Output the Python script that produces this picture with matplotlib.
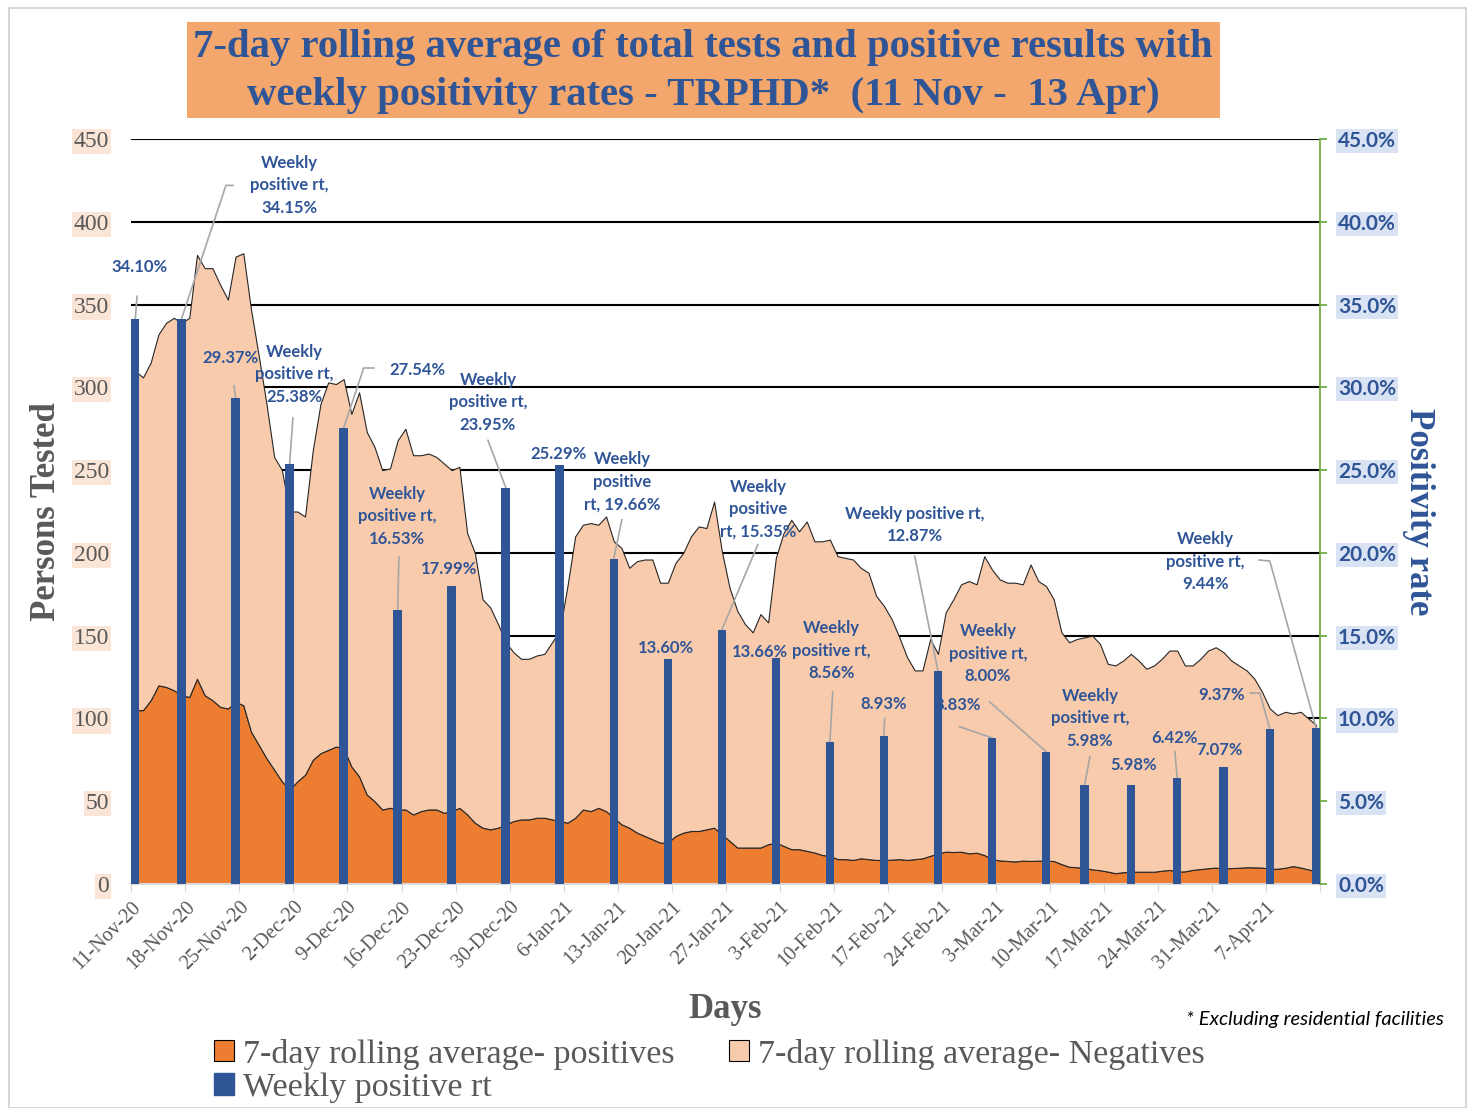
import numpy as np
import matplotlib.pyplot as plt
from matplotlib.patches import Patch, Rectangle

# daily 7-day rolling averages, 11-Nov-20 .. 13-Apr-21
total_tested = [
    310, 306, 315, 332, 339, 342, 339, 342, 380, 372, 372, 362, 353, 379, 381, 347,
    319, 290, 258, 250, 225, 225, 222, 262, 290, 303, 302, 305, 284, 297, 273, 264,
    250, 251, 268, 275, 259, 259, 260, 258, 254, 250, 252, 212, 200, 172, 167, 157,
    146, 140, 136, 136, 138, 139, 146, 153, 180, 210, 217, 218, 217, 222, 207, 203,
    191, 195, 196, 196, 182, 182, 194, 200, 210, 216, 215, 231, 201, 179, 165, 157,
    152, 163, 158, 197, 212, 220, 213, 219, 207, 207, 208, 198, 197, 196, 191, 188,
    174, 168, 160, 149, 137, 129, 129, 148, 139, 164, 172, 181, 183, 181, 198, 190,
    184, 182, 182, 181, 193, 183, 180, 172, 152, 146, 148, 149, 150, 145, 133, 132,
    135, 139, 135, 130, 132, 136, 141, 141, 132, 132, 136, 141, 143, 140, 135, 132,
    129, 124, 116, 106, 102, 104, 103, 104, 100, 96,
]
positives = [
    105, 105, 111, 120, 119, 117, 114, 113, 124, 114, 111, 107, 106, 110, 108, 92,
    84, 76, 69, 62, 57, 62, 66, 75, 79, 81, 83, 82, 71, 65, 54, 50,
    45, 46, 45, 45, 42, 44, 45, 45, 43, 44, 46, 42, 37, 34, 33, 34,
    36, 38, 39, 39, 40, 40, 39, 38, 37, 40, 45, 44, 46, 44, 40, 36,
    34, 31, 29, 27, 25, 25, 29, 31, 32, 32, 33, 34, 30, 26, 22, 22,
    22, 22, 24, 25, 23, 21, 21, 20, 19, 17.5, 17, 15, 15, 14.5, 15.5, 15,
    14.5, 14.5, 14.7, 15, 14.5, 15, 15.5, 17, 18.5, 19.5, 19.3, 19.5, 18.5, 18.9, 17.5, 15,
    14.2, 13.9, 13.6, 14.1, 13.9, 14.1, 14, 13.9, 12, 10.4, 10.1, 9.7, 8.8, 8.3, 7.5, 6.5,
    7.1, 7.4, 7.4, 7.4, 7.4, 8, 8.5, 7.5, 7.6, 8.5, 9, 9.5, 9.9, 9.3, 9.6, 9.8,
    10.1, 10, 9.9, 9.2, 9.2, 9.8, 10.8, 9.9, 8.8, 7.5,
]

# weekly positivity rate (%), day index since 11-Nov-20
rate_days = [0, 6, 13, 20, 27, 34, 41, 48, 55, 62, 69, 76, 83, 90, 97, 104,
             111, 118, 123, 129, 135, 141, 147, 153]
rate_vals = [34.10, 34.15, 29.37, 25.38, 27.54, 16.53, 17.99, 23.95, 25.29, 19.66,
             13.60, 15.35, 13.66, 8.56, 8.93, 12.87, 8.83, 8.00, 5.98, 5.98,
             6.42, 7.07, 9.37, 9.44]
rate_texts = ["{}%", "Weekly\npositive rt,\n{}%", "{}%", "Weekly\npositive rt,\n{}%",
              "{}%", "Weekly\npositive rt,\n{}%", "{}%", "Weekly\npositive rt,\n{}%",
              "{}%", "Weekly\npositive\nrt, {}%", "{}%", "Weekly\npositive\nrt, {}%",
              "{}%", "Weekly\npositive rt,\n{}%", "{}%", "Weekly positive rt,\n{}%",
              "{}%", "Weekly\npositive rt,\n{}%", "Weekly\npositive rt,\n{}%", "{}%",
              "{}%", "{}%", "{}%", "Weekly\npositive rt,\n{}%"]

tick_labels = ["11-Nov-20", "18-Nov-20", "25-Nov-20", "2-Dec-20", "9-Dec-20", "16-Dec-20",
               "23-Dec-20", "30-Dec-20", "6-Jan-21", "13-Jan-21", "20-Jan-21", "27-Jan-21",
               "3-Feb-21", "10-Feb-21", "17-Feb-21", "24-Feb-21", "3-Mar-21", "10-Mar-21",
               "17-Mar-21", "24-Mar-21", "31-Mar-21", "7-Apr-21"]

# label placement: text centre, leader start (+ elbow) in ax2 data coords
label_pos = [(1.0, 37.3), (20.5, 42.2), (12.9, 31.8), (21.1, 30.8), (37.0, 31.05),
             (34.4, 22.2), (41.1, 19.0), (46.2, 29.1), (55.3, 26.0), (63.6, 24.3),
             (69.3, 14.25), (81.2, 22.65), (81.4, 14.0), (90.7, 14.1), (97.5, 10.9),
             (101.5, 21.7), (107.1, 10.8), (111.0, 13.9), (124.2, 10.0), (129.9, 7.2),
             (135.1, 8.8), (141.0, 8.1), (141.3, 11.4), (139.2, 19.45)]
leaders = {0: [(0.73, 35.5)], 1: [(13.16, 42.2), (12.25, 42.2)], 2: [(13.3, 30.1)],
           3: [(20.93, 28.15)], 4: [(31.4, 31.17), (30.1, 31.17)], 5: [(34.66, 19.75)],
           7: [(46.2, 26.8)], 9: [(63.55, 22.0)], 11: [(81.17, 20.5)], 13: [(90.87, 11.6)],
           14: [(97.6, 10.0)], 15: [(101.5, 19.8)], 16: [(107.3, 9.5)], 17: [(111.2, 11.0)],
           18: [(124.2, 7.7)], 20: [(135.2, 8.0)], 22: [(145.0, 11.54), (146.2, 11.54)],
           23: [(146.1, 19.57), (147.5, 19.51)]}

BLUE = "#2F5597"
GREY = "#595959"
SERIF = ["Liberation Serif", "DejaVu Serif"]
SANS = ["Lato", "DejaVu Sans"]

days = np.arange(len(total_tested)) + 0.5
pos = np.array(positives)
neg = np.array(total_tested) - pos

fig = plt.figure(figsize=(14.73, 11.08), dpi=100)
fig.patches.append(Rectangle((0.006, 0.0), 0.989, 0.993, transform=fig.transFigure,
                             fill=False, edgecolor="#D0D0D0", lw=1.2))
ax = fig.add_axes([0.0892, 0.2022, 0.8069, 0.6723])
ax2 = ax.twinx()

ax.set_axisbelow(True)
ax.yaxis.grid(True, color="black", lw=1.5)
ax.stackplot(days, pos, neg, colors=["#ED7D31", "#F8CBAD"], edgecolor="#262626",
             linewidth=0.8, zorder=2)
ax.set_xlim(0, 154)
ax.set_ylim(0, 450)
ax.set_yticks(range(0, 451, 50))
ax.set_xticks(range(0, 155, 7))
ax.set_xticklabels(tick_labels + [""], rotation=45, ha="right", rotation_mode="anchor",
                   family=SERIF, fontsize=14.5, color=GREY)
ax.tick_params(axis="x", length=6, color="#D9D9D9", pad=4)
ax.tick_params(axis="y", length=0, pad=16)
for t in ax.get_yticklabels():
    t.set_family(SERIF)
    t.set_fontsize(17)
    t.set_color(GREY)
    t.set_bbox(dict(facecolor="#FBE5D6", edgecolor="none", pad=1.5))
for s in ["top", "left", "right"]:
    ax.spines[s].set_visible(False)
ax.spines["bottom"].set_color("#D9D9D9")
ax.spines["bottom"].set_linewidth(1.5)
ax.set_ylabel("Persons Tested", family=SERIF, fontsize=25, fontweight="bold",
              color=GREY, labelpad=8)
ax.set_xlabel("Days", family=SERIF, fontsize=25, fontweight="bold", color=GREY,
              labelpad=14)

bar_x = np.array(rate_days) + 0.5
ax2.bar(bar_x, rate_vals, width=1.1, color=BLUE, zorder=3)
ax2.set_ylim(0, 45)
ax2.set_yticks(range(0, 46, 5))
ax2.set_yticklabels([f"{v:.1f}%" for v in range(0, 46, 5)], family=SANS,
                    fontsize=15, fontweight="bold", color=BLUE)
for t in ax2.get_yticklabels():
    t.set_bbox(dict(facecolor="#DAE3F3", edgecolor="none", pad=1.5))
ax2.tick_params(axis="y", length=5, color="#70AD47", width=1.3, pad=8)
for s in ["top", "left", "bottom"]:
    ax2.spines[s].set_visible(False)
ax2.spines["right"].set_color("#70AD47")
ax2.spines["right"].set_linewidth(1.3)
ax2.set_ylabel("Positivity rate", family=SERIF, fontsize=25, fontweight="bold",
               color=BLUE, rotation=-90, labelpad=28)

# data labels (drawn in the lower axes so bars may overlap them, as in Excel)
for i, (x, v) in enumerate(zip(bar_x, rate_vals)):
    tx, ty = label_pos[i]
    ax.text(tx, ty, rate_texts[i].format(f"{v:.2f}"), transform=ax2.transData,
            ha="center", va="center", family=SANS, fontsize=12, fontweight="bold",
            color=BLUE, linespacing=1.5, zorder=5)
    if i in leaders:
        pts = leaders[i] + [(x, v)]
        ax.plot([p[0] for p in pts], [p[1] for p in pts], color="#A6A6A6", lw=1.2,
                transform=ax2.transData, zorder=5, clip_on=False)

# title
fig.patches.append(Rectangle((187 / 1473, 1 - 118 / 1108), 1033 / 1473, 96 / 1108,
                             transform=fig.transFigure, facecolor="#F4A76D",
                             edgecolor="none"))
fig.text(703 / 1473, 1 - 48 / 1108,
         "7-day rolling average of total tests and positive results with",
         ha="center", va="center", family=SERIF, fontsize=29.3, fontweight="bold",
         color=BLUE)
fig.text(703 / 1473, 1 - 95 / 1108,
         "weekly positivity rates - TRPHD*  (11 Nov -  13 Apr)",
         ha="center", va="center", family=SERIF, fontsize=29.3, fontweight="bold",
         color=BLUE)

handles = [Patch(facecolor="#ED7D31", edgecolor="black", lw=0.8),
           Patch(facecolor=BLUE, edgecolor=BLUE),
           Patch(facecolor="#F8CBAD", edgecolor="black", lw=0.8)]
labels = ["7-day rolling average- positives", "Weekly positive rt",
          "7-day rolling average- Negatives"]
leg = fig.legend(handles, labels, ncol=2, loc="upper left",
                 bbox_to_anchor=(200 / 1473, 1 - 1025 / 1108), frameon=False,
                 prop={"family": SERIF, "size": 24.5}, handlelength=0.6,
                 handleheight=0.6, handletextpad=0.25, columnspacing=1.6,
                 labelspacing=0.08, borderaxespad=0)
for t in leg.get_texts():
    t.set_color(GREY)

fig.text(1444 / 1473, 1 - 1020 / 1108, "* Excluding residential facilities",
         ha="right", va="center", family=SANS, style="italic", fontsize=14.5,
         color="black")

fig.savefig("out.png", dpi=100)
